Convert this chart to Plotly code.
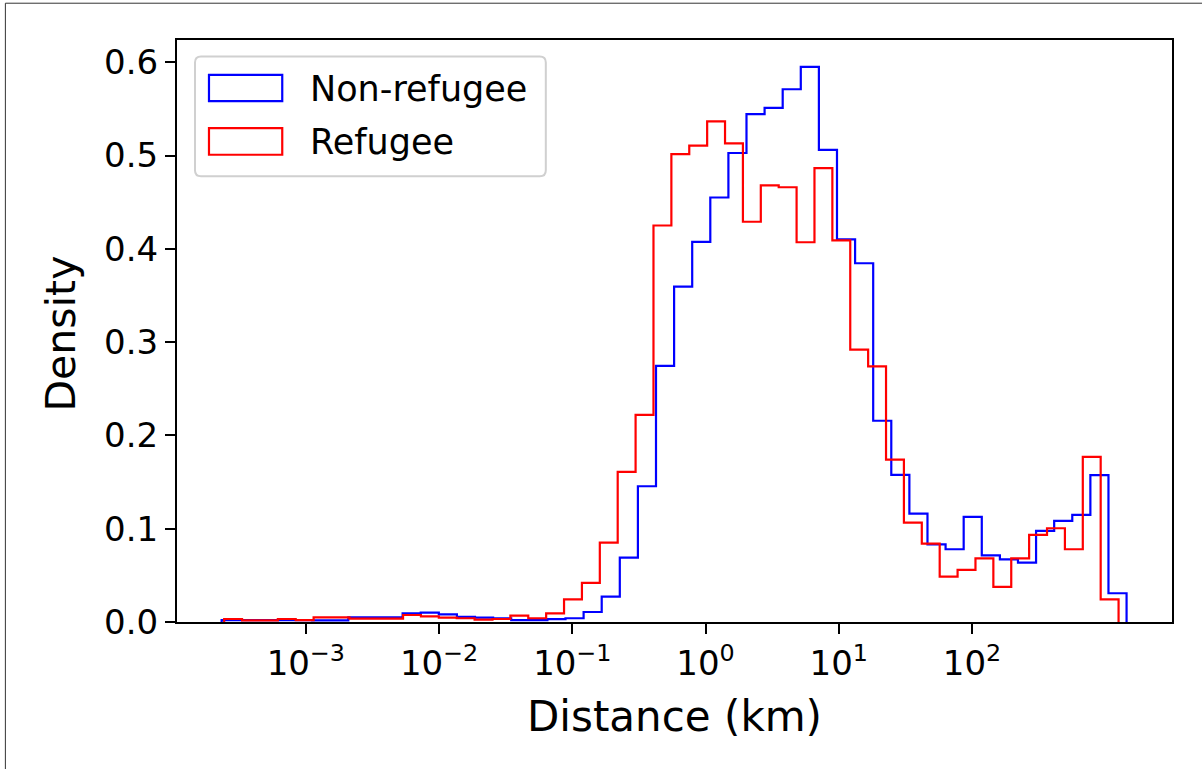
import numpy as np
import plotly.graph_objects as go

# ---------------- data ----------------
n_bins = 50
# log10 range of the histogram bins for each group
nonref_log_min, nonref_log_max = -3.632, 3.160
ref_log_min, ref_log_max = -3.613, 3.100

nonref_density = [
    0.002, 0.002, 0.002, 0.002, 0.002, 0.0018, 0.0018, 0.005, 0.005, 0.005,
    0.0093, 0.0100, 0.0082, 0.0054, 0.0046, 0.004, 0.002, 0.002, 0.003, 0.004,
    0.0107, 0.0271, 0.069, 0.1455, 0.2745, 0.3594, 0.4074, 0.455, 0.5027, 0.5444,
    0.551, 0.571, 0.595, 0.506, 0.410, 0.3845, 0.2157, 0.1577, 0.1162, 0.0833,
    0.078, 0.1127, 0.0715, 0.0672, 0.0637, 0.0976, 0.1084, 0.1148, 0.1574, 0.0308,
]
ref_density = [
    0.0032, 0.0018, 0.0018, 0.0032, 0.0021, 0.005, 0.005, 0.0036, 0.0036, 0.0036,
    0.0075, 0.006, 0.0046, 0.0040, 0.0025, 0.0032, 0.0068, 0.004, 0.0093, 0.0243,
    0.042, 0.085, 0.161, 0.222, 0.425, 0.5015, 0.5106, 0.5365, 0.513, 0.429,
    0.468, 0.466, 0.407, 0.4865, 0.409, 0.292, 0.274, 0.174, 0.1066, 0.084,
    0.0486, 0.0558, 0.0683, 0.0376, 0.0683, 0.0933, 0.1005, 0.078, 0.177, 0.0243,
]
series_names = ["Non-refugee", "Refugee"]
series_colors = ["#0000ff", "#ff0000"]

x_tick_exponents = [-3, -2, -1, 0, 1, 2]
y_tick_values = [0.0, 0.1, 0.2, 0.3, 0.4, 0.5, 0.6]

# ---------------- helpers ----------------
def step_outline(log_min, log_max, values):
    edges = np.logspace(log_min, log_max, n_bins + 1)
    xs = [edges[0], edges[0]] + list(edges[1:]) + [edges[-1]]
    ys = [0.0] + list(values) + [values[-1], 0.0]
    return xs, ys

W, H = 1202, 769
L, R, T, B = 177, 1172.5, 39.5, 621.7

def px_x(p):
    return (p - L) / (R - L)

def px_y(p):
    return (B - p) / (B - T)

FONT = "DejaVu Sans"

fig = go.Figure()
for (lmin, lmax, vals), name, col in zip(
    [(nonref_log_min, nonref_log_max, nonref_density),
     (ref_log_min, ref_log_max, ref_density)],
    series_names, series_colors):
    xs, ys = step_outline(lmin, lmax, vals)
    fig.add_trace(go.Scatter(x=xs, y=ys, mode="lines", line_shape="hv",
                             line=dict(color=col, width=2.2), name=name,
                             showlegend=False))

fig.update_layout(
    width=W, height=H,
    margin=dict(l=L, r=W - R, t=T, b=H - B, pad=0),
    paper_bgcolor="white", plot_bgcolor="white",
    font=dict(family=FONT, color="black", size=34),
    showlegend=False,
)
fig.update_xaxes(
    type="log", range=[-3.967, 3.501],
    tickvals=[10.0 ** e for e in x_tick_exponents],
    ticktext=["10<sup>%s</sup>" % (str(e).replace("-", "\u2212")) for e in x_tick_exponents],
    ticks="outside", ticklen=10, tickwidth=2, tickcolor="black",
    showline=True, linecolor="black", linewidth=2.2, mirror=True,
    showgrid=False, zeroline=False,
    tickfont=dict(size=34, family=FONT),
)
fig.update_yaxes(
    range=[0, 0.6238],
    tickvals=y_tick_values, tickformat=".1f",
    ticks="outside", ticklen=10, tickwidth=2, tickcolor="black",
    showline=True, linecolor="black", linewidth=2.2, mirror=True,
    showgrid=False, zeroline=False,
    tickfont=dict(size=34, family=FONT),
)

# axis titles
fig.add_annotation(text="Distance (km)", xref="paper", yref="paper",
                   x=px_x(675), y=px_y(716), xanchor="center", yanchor="middle",
                   showarrow=False, font=dict(size=42, family=FONT))
fig.add_annotation(text="Density", xref="paper", yref="paper",
                   x=px_x(61), y=px_y(333), xanchor="center", yanchor="middle",
                   textangle=-90, showarrow=False, font=dict(size=41, family=FONT))

# legend (matplotlib-like, with outline patches)
bx0, bx1, by0, by1 = 195, 546, 56, 175.7
r = 6
rx, ry = r / (R - L), r / (B - T)
X0, X1, Y0, Y1 = px_x(bx0), px_x(bx1), px_y(by1), px_y(by0)
path = (f"M {X0+rx},{Y0} L {X1-rx},{Y0} Q {X1},{Y0} {X1},{Y0+ry} "
        f"L {X1},{Y1-ry} Q {X1},{Y1} {X1-rx},{Y1} L {X0+rx},{Y1} "
        f"Q {X0},{Y1} {X0},{Y1-ry} L {X0},{Y0+ry} Q {X0},{Y0} {X0+rx},{Y0} Z")
fig.add_shape(type="path", path=path, xref="paper", yref="paper",
              line=dict(color="#d0d0d0", width=2), fillcolor="rgba(255,255,255,0.8)")
patch_rows = [(74.3, 100.7), (127.7, 154.3)]
for (py0, py1), name, col in zip(patch_rows, series_names, series_colors):
    fig.add_shape(type="rect", xref="paper", yref="paper",
                  x0=px_x(209), x1=px_x(282.3), y0=px_y(py1), y1=px_y(py0),
                  line=dict(color=col, width=2.2), fillcolor="rgba(0,0,0,0)")
    fig.add_annotation(text=name, xref="paper", yref="paper",
                       x=px_x(308), y=px_y((py0 + py1) / 2 + 1), xanchor="left", yanchor="middle",
                       showarrow=False, font=dict(size=35, family=FONT))

# outer image frame (top and left edges)
fig.add_shape(type="line", xref="paper", yref="paper",
              x0=px_x(5.3), x1=px_x(5.3), y0=px_y(2.7), y1=px_y(800),
              line=dict(color="#333333", width=1))
fig.add_shape(type="line", xref="paper", yref="paper",
              x0=px_x(5.3), x1=px_x(1250), y0=px_y(2.7), y1=px_y(2.7),
              line=dict(color="#333333", width=1))

fig.write_html("out.html",
               config={"displayModeBar": False},
               post_script="document.body.style.margin='0';document.body.style.overflow='hidden';")
